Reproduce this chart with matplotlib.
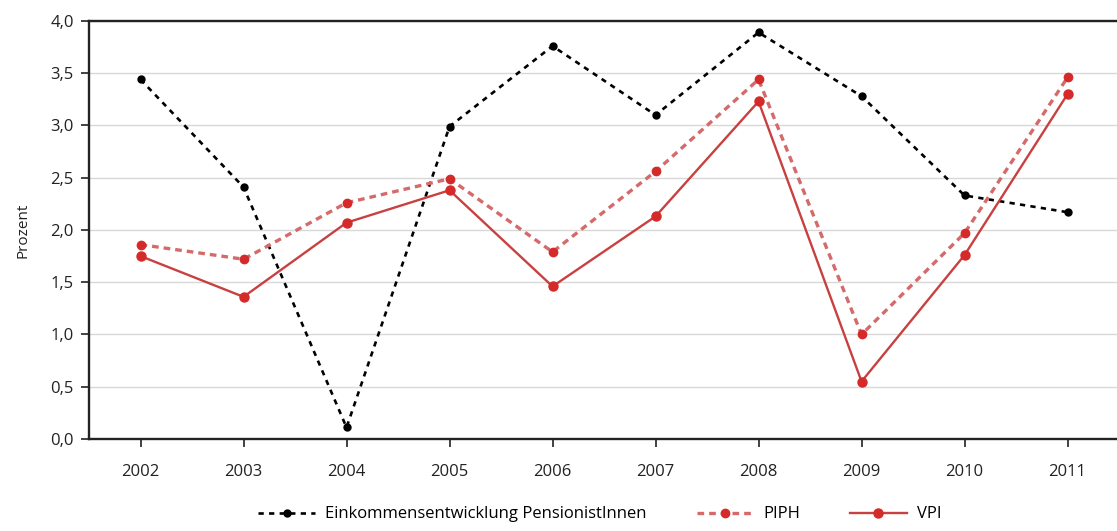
import matplotlib
matplotlib.use("Agg")
import matplotlib.pyplot as plt
from matplotlib.ticker import FuncFormatter

# --- Daten ---
jahre = [2002, 2003, 2004, 2005, 2006, 2007, 2008, 2009, 2010, 2011]
einkommen = [3.44, 2.41, 0.11, 2.99, 3.76, 3.10, 3.89, 3.28, 2.33, 2.17]
piph = [1.86, 1.72, 2.26, 2.49, 1.79, 2.56, 3.44, 1.00, 1.97, 3.46]
vpi = [1.75, 1.36, 2.07, 2.38, 1.46, 2.13, 3.23, 0.55, 1.76, 3.30]

y_ticks = [0.0, 0.5, 1.0, 1.5, 2.0, 2.5, 3.0, 3.5, 4.0]

plt.rcParams['font.family'] = ['Open Sans', 'DejaVu Sans']

fig = plt.figure(figsize=(11.17, 5.31), dpi=100)
ax = fig.add_axes([0.0797, 0.1733, 0.9203, 0.7872])

rot = "#d42a2a"
linie_rot = "#c94040"

ax.plot(jahre, einkommen, color="black", linestyle=(0, (2.0, 2.0)), linewidth=1.9,
        marker="o", markersize=5, markerfacecolor="black", markeredgecolor="black",
        label="Einkommensentwicklung PensionistInnen", zorder=3)
ax.plot(jahre, piph, color="#d46a6a", linestyle=(0, (2.0, 1.5)), linewidth=2.4,
        marker="o", markersize=6, markerfacecolor=rot, markeredgecolor=rot,
        label="PIPH", zorder=4)
ax.plot(jahre, vpi, color=linie_rot, linestyle="-", linewidth=1.7,
        marker="o", markersize=6.5, markerfacecolor=rot, markeredgecolor=rot,
        label="VPI", zorder=5)

ax.set_xlim(2001.5, 2011.48)
ax.set_ylim(0, 4.0)
ax.set_xticks(jahre)
ax.set_yticks(y_ticks)
ax.yaxis.set_major_formatter(FuncFormatter(lambda v, p: f"{v:.1f}".replace(".", ",")))

ax.grid(axis="y", color="#d8d8d8", linewidth=1.0)
ax.set_axisbelow(True)

for s in ["left", "top", "bottom"]:
    ax.spines[s].set_color("#222222")
    ax.spines[s].set_linewidth(1.7)
ax.spines["right"].set_visible(False)

ax.tick_params(axis="both", direction="out", length=6, width=1.3, color="#333333",
               labelsize=12, labelcolor="#222222")
ax.tick_params(axis="x", pad=12)
ax.tick_params(axis="y", pad=5)
ax.set_ylabel("Prozent", fontsize=11, color="#222222", labelpad=14)

fig.legend(loc="lower center", bbox_to_anchor=(0.537, -0.012), ncol=3, frameon=False,
           fontsize=12, handlelength=3.4, columnspacing=3.0, handletextpad=0.6)

fig.savefig("out.png", dpi=100, facecolor="white")
